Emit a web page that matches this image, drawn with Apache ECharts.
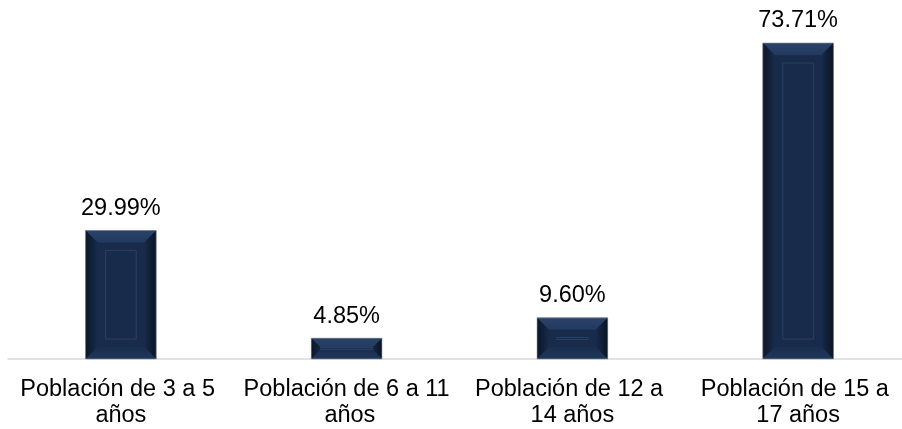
<!DOCTYPE html>
<html>
<head>
<meta charset="utf-8">
<script src="https://cdn.jsdelivr.net/npm/echarts@6/dist/echarts.min.js"></script>
<style>
html,body{margin:0;padding:0;background:#fff;}
#chart{width:902px;height:429px;}
</style>
</head>
<body>
<div id="chart"></div>
<script>
const categories = ['Población de 3 a 5 años', 'Población de 6 a 11 años', 'Población de 12 a 14 años', 'Población de 15 a 17 años'];
const values = [29.99, 4.85, 9.60, 73.71];

const chart = echarts.init(document.getElementById('chart'));
const FONT = 'Liberation Sans, Arial, sans-serif';

function renderBar(params, api) {
  const idx = api.value(0);
  const val = api.value(1);
  const top = api.coord([idx, val]);
  const base = api.coord([idx, 0]);
  const w = api.size([1, 0])[0] * 0.313;
  const x0 = top[0] - w / 2, x1 = top[0] + w / 2;
  const y0 = top[1], y1 = base[1];
  const h = y1 - y0;
  const b = Math.min(12, h / 2, w / 2);
  const p = Math.min(20, h / 2 - 1);
  const V = (c1, c2) => new echarts.graphic.LinearGradient(0, 0, 0, 1, [{offset: 0, color: c1}, {offset: 1, color: c2}]);
  const H = (c1, c2) => new echarts.graphic.LinearGradient(0, 0, 1, 0, [{offset: 0, color: c1}, {offset: 1, color: c2}]);
  const children = [
    {type: 'rect', shape: {x: x0, y: y0, width: w, height: h}, style: {fill: '#182b4b'}},
    {type: 'polygon', shape: {points: [[x0, y0], [x1, y0], [x1 - b, y0 + b], [x0 + b, y0 + b]]}, style: {fill: V('#2b4368', '#223a60')}},
    {type: 'polygon', shape: {points: [[x0, y0], [x0 + b, y0 + b], [x0 + b, y1 - b], [x0, y1]]}, style: {fill: H('#0b1628', '#182b4b')}},
    {type: 'polygon', shape: {points: [[x1, y0], [x1 - b, y0 + b], [x1 - b, y1 - b], [x1, y1]]}, style: {fill: H('#182b4b', '#0a1322')}},
    {type: 'polygon', shape: {points: [[x0, y1], [x1, y1], [x1 - b, y1 - b], [x0 + b, y1 - b]]}, style: {fill: V('#1a2e4e', '#203659')}},
    {type: 'rect', shape: {x: x0 + p, y: y0 + p, width: Math.max(0, w - 2 * p), height: Math.max(0, h - 2 * p)}, style: {fill: 'none', stroke: '#2a4064', lineWidth: 1}},
    {type: 'rect', shape: {x: x0, y: y0, width: w, height: h}, style: {fill: 'none', stroke: '#8d97a8', lineWidth: 0.6}},
    {type: 'text', style: {text: val.toFixed(2) + '%', x: top[0], y: y0 - 10, align: 'center', verticalAlign: 'bottom', fill: '#000', font: '23.5px ' + FONT}}
  ];
  return {type: 'group', children: children};
}

chart.setOption({
  animation: false,
  backgroundColor: '#fff',
  grid: {left: 8, top: 16, right: -9, bottom: 70, outerBoundsMode: 'none', containLabel: false},
  xAxis: {
    type: 'category',
    data: categories,
    axisLine: {lineStyle: {color: '#d9d9d9', width: 1.5}},
    axisTick: {show: false},
    axisLabel: {
      color: '#000', fontFamily: FONT, fontSize: 23.5, lineHeight: 26,
      margin: 18, width: 220, overflow: 'break', interval: 0
    }
  },
  yAxis: {type: 'value', min: 0, max: 80, show: false, splitLine: {show: false}},
  series: [{
    type: 'custom',
    renderItem: renderBar,
    data: values.map((v, i) => [i, v]),
    encode: {x: 0, y: 1},
    clip: false
  }]
});
</script>
</body>
</html>
